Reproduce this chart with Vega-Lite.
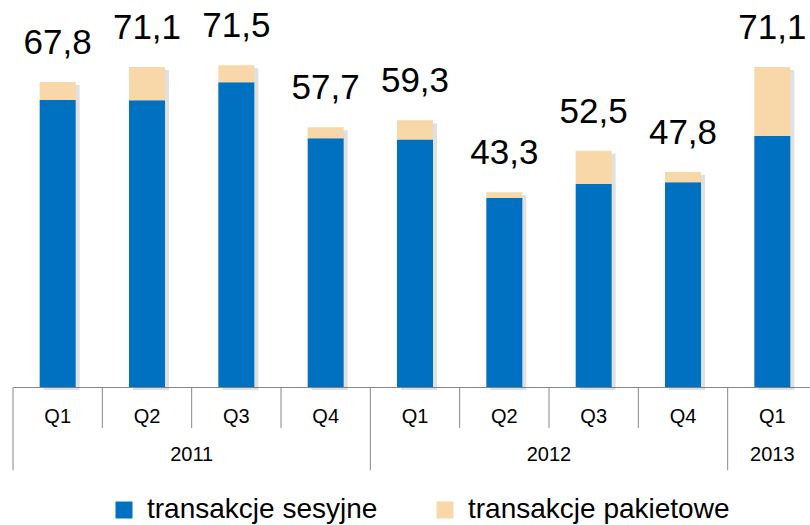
{
  "$schema": "https://vega.github.io/schema/vega-lite/v6.json",
  "width": 797,
  "height": 360,
  "autosize": {"type": "none"},
  "padding": {"left": 13, "top": 27, "right": 0, "bottom": 138},
  "config": {
    "view": {"stroke": null},
    "font": "Liberation Sans",
    "locale": {"number": {"decimal": ",", "thousands": " ", "grouping": [3], "currency": ["", " zł"]}}
  },
  "datasets": {
    "bars": [
      {"period": "2011 Q1", "series": "transakcje sesyjne", "value": 63.8},
      {"period": "2011 Q1", "series": "transakcje pakietowe", "value": 4.0},
      {"period": "2011 Q2", "series": "transakcje sesyjne", "value": 63.7},
      {"period": "2011 Q2", "series": "transakcje pakietowe", "value": 7.4},
      {"period": "2011 Q3", "series": "transakcje sesyjne", "value": 67.7},
      {"period": "2011 Q3", "series": "transakcje pakietowe", "value": 3.8},
      {"period": "2011 Q4", "series": "transakcje sesyjne", "value": 55.3},
      {"period": "2011 Q4", "series": "transakcje pakietowe", "value": 2.4},
      {"period": "2012 Q1", "series": "transakcje sesyjne", "value": 55.0},
      {"period": "2012 Q1", "series": "transakcje pakietowe", "value": 4.3},
      {"period": "2012 Q2", "series": "transakcje sesyjne", "value": 42.0},
      {"period": "2012 Q2", "series": "transakcje pakietowe", "value": 1.3},
      {"period": "2012 Q3", "series": "transakcje sesyjne", "value": 45.1},
      {"period": "2012 Q3", "series": "transakcje pakietowe", "value": 7.4},
      {"period": "2012 Q4", "series": "transakcje sesyjne", "value": 45.5},
      {"period": "2012 Q4", "series": "transakcje pakietowe", "value": 2.3},
      {"period": "2013 Q1", "series": "transakcje sesyjne", "value": 55.8},
      {"period": "2013 Q1", "series": "transakcje pakietowe", "value": 15.3}
    ],
    "totals": [
      {"period": "2011 Q1", "total": 67.8},
      {"period": "2011 Q2", "total": 71.1},
      {"period": "2011 Q3", "total": 71.5},
      {"period": "2011 Q4", "total": 57.7},
      {"period": "2012 Q1", "total": 59.3},
      {"period": "2012 Q2", "total": 43.3},
      {"period": "2012 Q3", "total": 52.5},
      {"period": "2012 Q4", "total": 47.8},
      {"period": "2013 Q1", "total": 71.1}
    ],
    "seps": [
      {"period": "2011 Q1", "kind": "year"},
      {"period": "2011 Q2", "kind": "quarter"},
      {"period": "2011 Q3", "kind": "quarter"},
      {"period": "2011 Q4", "kind": "quarter"},
      {"period": "2012 Q1", "kind": "year"},
      {"period": "2012 Q2", "kind": "quarter"},
      {"period": "2012 Q3", "kind": "quarter"},
      {"period": "2012 Q4", "kind": "quarter"},
      {"period": "2013 Q1", "kind": "year"}
    ],
    "years": [
      {"year": "2011", "anchor": "2011 Q2", "span": "multi"},
      {"year": "2012", "anchor": "2012 Q2", "span": "multi"},
      {"year": "2013", "anchor": "2013 Q1", "span": "single"}
    ]
  },
  "layer": [
    {
      "data": {"name": "totals"},
      "mark": {"type": "bar", "size": 36, "color": "#555555", "opacity": 0.18, "xOffset": 4, "yOffset": 3},
      "encoding": {
        "x": {
          "field": "period", "type": "nominal", "sort": null,
          "scale": {
            "domain": ["2011 Q1", "2011 Q2", "2011 Q3", "2011 Q4", "2012 Q1", "2012 Q2", "2012 Q3", "2012 Q4", "2013 Q1"],
            "range": [0, 804], "paddingInner": 0, "paddingOuter": 0
          },
          "axis": {
            "title": null, "labelExpr": "slice(datum.label, 5)", "labelAngle": 0,
            "ticks": false, "tickSize": 0, "domainColor": "#868686", "domainWidth": 1,
            "labelFontSize": 20, "labelColor": "#000000", "labelPadding": 19, "grid": false
          }
        },
        "y": {"field": "total", "type": "quantitative", "scale": {"domain": [0, 80]}, "axis": null}
      }
    },
    {
      "data": {"name": "bars"},
      "mark": {"type": "bar", "size": 36},
      "encoding": {
        "x": {"field": "period", "type": "nominal", "sort": null},
        "y": {"field": "value", "type": "quantitative", "stack": "zero"},
        "color": {
          "field": "series", "type": "nominal",
          "scale": {"domain": ["transakcje sesyjne", "transakcje pakietowe"], "range": ["#0070C0", "#F8D7A8"]},
          "legend": {
            "title": null, "orient": "none", "legendX": 97, "legendY": 469,
            "direction": "horizontal", "symbolType": "square", "symbolSize": 289,
            "symbolStrokeWidth": 0, "labelFontSize": 28, "labelColor": "#000000",
            "labelLimit": 500, "labelOffset": 9, "columnPadding": 53, "padding": 0
          }
        },
        "order": {"field": "series", "sort": "descending"}
      }
    },
    {
      "data": {"name": "totals"},
      "mark": {"type": "text", "fontSize": 35, "dy": -28, "baseline": "alphabetic", "align": "center", "color": "#000000"},
      "encoding": {
        "x": {"field": "period", "type": "nominal", "sort": null},
        "y": {"field": "total", "type": "quantitative"},
        "text": {"field": "total", "type": "quantitative", "format": ".1f"}
      }
    },
    {
      "data": {"name": "seps"},
      "transform": [{"filter": "datum.kind === 'quarter'"}],
      "mark": {"type": "rule", "color": "#868686", "strokeWidth": 1},
      "encoding": {
        "x": {"field": "period", "type": "nominal", "sort": null, "bandPosition": 0},
        "y": {"datum": 0},
        "y2": {"datum": -9.1}
      }
    },
    {
      "data": {"name": "seps"},
      "transform": [{"filter": "datum.kind === 'year'"}],
      "mark": {"type": "rule", "color": "#868686", "strokeWidth": 1},
      "encoding": {
        "x": {"field": "period", "type": "nominal", "sort": null, "bandPosition": 0},
        "y": {"datum": 0},
        "y2": {"datum": -18.5}
      }
    },
    {
      "data": {"name": "years"},
      "transform": [{"filter": "datum.span === 'multi'"}],
      "mark": {"type": "text", "fontSize": 20, "baseline": "middle", "align": "center", "color": "#000000"},
      "encoding": {
        "x": {"field": "anchor", "type": "nominal", "sort": null, "bandPosition": 1},
        "y": {"datum": -15.2},
        "text": {"field": "year"}
      }
    },
    {
      "data": {"name": "years"},
      "transform": [{"filter": "datum.span === 'single'"}],
      "mark": {"type": "text", "fontSize": 20, "baseline": "middle", "align": "center", "color": "#000000"},
      "encoding": {
        "x": {"field": "anchor", "type": "nominal", "sort": null, "bandPosition": 0.5},
        "y": {"datum": -15.2},
        "text": {"field": "year"}
      }
    }
  ]
}
